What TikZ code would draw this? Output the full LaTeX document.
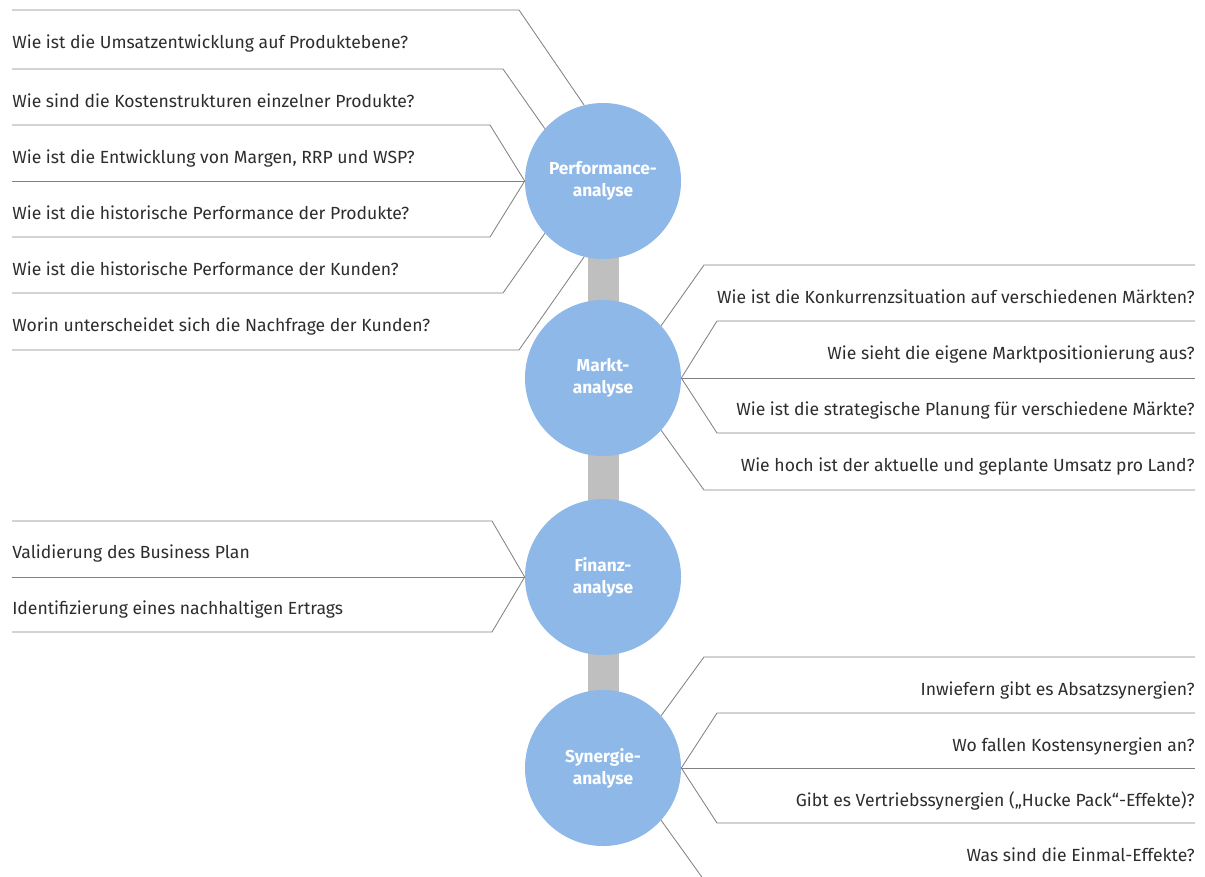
\documentclass[tikz,border=0pt]{standalone}
\usepackage{fontspec}
\setmainfont{Fira Sans}

\definecolor{kreisblau}{RGB}{141,184,232}
\definecolor{balkengrau}{RGB}{191,191,191}
\definecolor{liniengrau}{RGB}{130,130,130}
\definecolor{textgrau}{RGB}{45,45,45}

\begin{document}
\begin{tikzpicture}[x = 0.025cm, y = -0.025cm,
	kreis/.style = {circle, fill = kreisblau, minimum size = 3.9cm, inner sep = 0,
		text = white, align = center, font = \fontsize{12.3}{15.5}\selectfont\bfseries},
	frage/.style = {inner sep = 0, text = textgrau, font = \fontsize{12.5}{14}\selectfont},
	trenner/.style = {liniengrau, line width = 0.6pt}]

	% Frame

	\useasboundingbox (0, 0) rectangle (1205, 876);
	\clip (0, 0) rectangle (1205, 876);

	% Vertical bar

	\fill [balkengrau] (588, 181) rectangle (619, 768);

	% Circles

	\node [kreis] (perf) at (603, 181) {Performance-\\analyse};
	\node [kreis] (markt) at (603, 378) {Markt-\\analyse};
	\node [kreis] (finanz) at (603, 577) {Finanz-\\analyse};
	\node [kreis] (synergie) at (603, 768) {Synergie-\\analyse};

	% Performance lines (left)

	\foreach \w/\x/\y in {104/519/10, 138/503/69, 180/490/125, 180/490/237, 222/503/293, 256/519/350}
		\draw [trenner] (perf.\w) -- (\x, \y) -- (12, \y);
	\draw [trenner] (perf.west) -- (12, 181);

	% Markt lines (right)

	\foreach \w/\x/\y in {42/704/265, 0/717/321, 0/717/433, 318/704/490}
		\draw [trenner] (markt.\w) -- (\x, \y) -- (1195, \y);
	\draw [trenner] (markt.east) -- (1195, 378);

	% Finanz lines (left)

	\foreach \y in {521, 632}
		\draw [trenner] (finanz.west) -- (492, \y) -- (12, \y);
	\draw [trenner] (finanz.west) -- (12, 577);

	% Synergie lines (right)

	\foreach \w/\x/\y in {42/704/657, 0/717/713, 0/717/823, 318/704/880}
		\draw [trenner] (synergie.\w) -- (\x, \y) -- (1195, \y);
	\draw [trenner] (synergie.east) -- (1195, 768);

	% Questions

	\foreach \y/\t [count = \i] in {
		48/{Wie ist die Umsatzentwicklung auf Produktebene?},
		107/{Wie sind die Kostenstrukturen einzelner Produkte?},
		163/{Wie ist die Entwicklung von Margen, RRP und WSP?},
		219/{Wie ist die historische Performance der Produkte?},
		275/{Wie ist die historische Performance der Kunden?},
		331/{Worin unterscheidet sich die Nachfrage der Kunden?}}
		\node [frage, anchor = base west] (p\i) at (12, \y) {\t};

	\foreach \y/\t [count = \i] in {
		303/{Wie ist die Konkurrenzsituation auf verschiedenen Märkten?},
		359/{Wie sieht die eigene Marktpositionierung aus?},
		415/{Wie ist die strategische Planung für verschiedene Märkte?},
		471/{Wie hoch ist der aktuelle und geplante Umsatz pro Land?}}
		\node [frage, anchor = base east] (m\i) at (1195, \y) {\t};

	\foreach \y/\t [count = \i] in {
		558/{Validierung des Business Plan},
		614/{Identifizierung eines nachhaltigen Ertrags}}
		\node [frage, anchor = base west] (f\i) at (12, \y) {\t};

	\foreach \y/\t [count = \i] in {
		695/{Inwiefern gibt es Absatzsynergien?},
		751/{Wo fallen Kostensynergien an?},
		806/{Gibt es Vertriebssynergien („Hucke Pack“-Effekte)?},
		861/{Was sind die Einmal-Effekte?}}
		\node [frage, anchor = base east] (s\i) at (1195, \y) {\t};

\end{tikzpicture}
\end{document}
